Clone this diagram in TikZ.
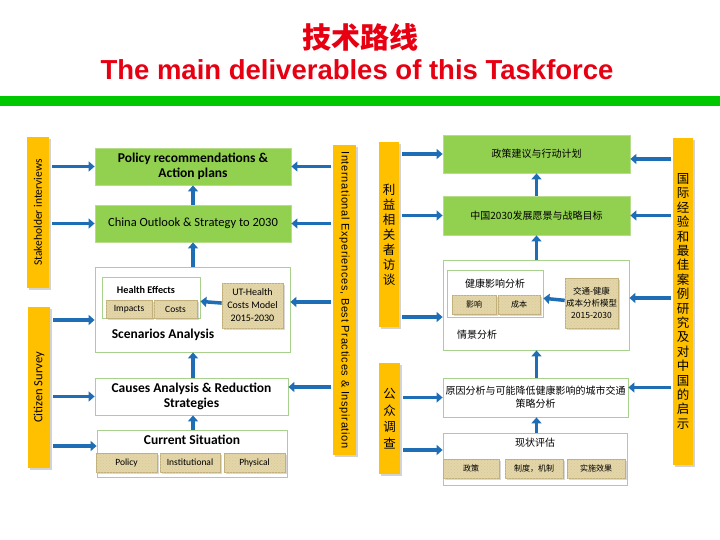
\documentclass[tikz,border=0pt]{standalone}
\usepackage{fontspec}
\setmainfont{Carlito}
\newfontfamily\cjk{Noto Sans CJK SC}
\newfontfamily\arialf{Liberation Sans}
\newfontfamily\arialwide[LetterSpace=6]{Liberation Sans}
\usetikzlibrary{arrows.meta,shadows,calc,patterns}
\definecolor{titlered}{HTML}{E60012}
\definecolor{topgreen}{HTML}{00C800}
\definecolor{barorange}{HTML}{FFC000}
\definecolor{boxgreen}{HTML}{92D050}
\definecolor{boxgreenline}{HTML}{B7DD8C}
\definecolor{frameline}{HTML}{A9D18E}
\definecolor{tanfill}{HTML}{E4D6A6}
\definecolor{tanline}{HTML}{C2B07A}
\definecolor{arrowblue}{HTML}{1F6DB4}
\begin{document}
\begin{tikzpicture}[x=1pt, y=-1pt, >={Triangle[length=6pt,width=10pt]},
  sidebar/.style={fill=barorange, inner sep=0pt,
    drop shadow={shadow xshift=2pt, shadow yshift=-2pt, opacity=0.35}},
  greenbox/.style={fill=boxgreen, draw=boxgreenline, line width=0.8pt, inner sep=0pt, align=center},
  framebox/.style={fill=white, draw=frameline, line width=0.8pt, inner sep=0pt},
  tanbox/.style={fill=tanfill, draw=tanline, line width=0.6pt, inner sep=0pt, align=center,
    drop shadow={shadow xshift=1.5pt, shadow yshift=-1.5pt, opacity=0.3},
    postaction={pattern=crosshatch dots, pattern color=tanline!70}},
  flow/.style={->, line width=3.5pt, draw=arrowblue},
  zhfont/.style={font=\cjk\fontsize{10}{13}\selectfont}]
\useasboundingbox (0,0) rectangle (720,540);

% title
\node[font=\cjk\bfseries\fontsize{29}{31}\selectfont, text=titlered] (ttl) at (360,37) {技术路线};
\node[font=\arialf\bfseries\fontsize{27.5}{29}\selectfont, text=titlered] (sub) at (357,70) {The main deliverables of this Taskforce};
\fill[topgreen] (0,96) rectangle (720,106);

% English flow
\node[sidebar, minimum width=22pt, minimum height=151pt] (sbar) at (38,212.5) {};
\node[rotate=90, font=\fontsize{11.5}{13}\selectfont] at (sbar) {Stakeholder interviews};
\node[sidebar, minimum width=22pt, minimum height=161pt] (cbar) at (39,387.5) {};
\node[rotate=90, font=\fontsize{12.5}{14}\selectfont] at (cbar) {Citizen Survey};
\node[sidebar, minimum width=23pt, minimum height=310pt] (ibar) at (344.5,300) {};
\node[rotate=-90, font=\arialwide\fontsize{11}{12}\selectfont] at (ibar) {International Experiences, Best Practices \& Inspiration};

\node[greenbox, minimum width=196pt, minimum height=37pt, font=\bfseries\fontsize{13.5}{15}\selectfont] (pol) at (193,166.5) {Policy recommendations \&\\Action plans};
\node[greenbox, minimum width=196pt, minimum height=37pt, font=\fontsize{12.5}{14}\selectfont] (chn) at (193,223.5) {China Outlook \& Strategy to 2030};

\node[framebox, minimum width=195pt, minimum height=85pt] (scen) at (192.5,309.5) {};
\node[framebox, minimum width=98pt, minimum height=41pt] (hlth) at (151,297.5) {};
\node[font=\bfseries\fontsize{10.2}{12}\selectfont] (hlthtxt) at (146,290) {Health Effects};
\node[tanbox, minimum width=46pt, minimum height=18pt, font=\fontsize{9.5}{10}\selectfont] (imp) at (129,309) {Impacts};
\node[tanbox, minimum width=43pt, minimum height=18pt, font=\fontsize{9.5}{10}\selectfont] (cst) at (175.5,309) {Costs};
\node[tanbox, minimum width=61pt, minimum height=45pt, font=\fontsize{10}{13}\selectfont] (ut) at (252.5,305.5) {UT-Health\\Costs Model\\2015-2030};
\node[font=\bfseries\fontsize{13.5}{15}\selectfont] (scentxt) at (163,335) {Scenarios Analysis};

\node[framebox, minimum width=193pt, minimum height=37pt, align=center, font=\bfseries\fontsize{13.5}{15}\selectfont] (caus) at (191.5,396.5) {Causes Analysis \& Reduction\\Strategies};
\node[framebox, minimum width=190pt, minimum height=47pt] (cur) at (192,453.5) {};
\node[font=\bfseries\fontsize{13.5}{15}\selectfont] (curtxt) at (192,440) {Current Situation};
\node[tanbox, minimum width=61pt, minimum height=19pt, font=\fontsize{9.5}{10}\selectfont] (cpol) at (126.5,462.5) {Policy};
\node[tanbox, minimum width=60pt, minimum height=19pt, font=\fontsize{9.5}{10}\selectfont] (cins) at (190,462.5) {Institutional};
\node[tanbox, minimum width=61pt, minimum height=19pt, font=\fontsize{9.5}{10}\selectfont] (cphy) at (254.5,462.5) {Physical};

\draw[flow] (chn) -- (pol);
\draw[flow] (scen.north -| chn) -- (chn);
\draw[flow] (caus.north -| chn) -- (scen.south -| chn);
\draw[flow] (cur.north -| chn) -- (caus.south -| chn);
\draw[flow] (ut) -- (hlth);
\draw[flow, shorten <=3pt] (sbar.east |- pol.west) -- (pol.west);
\draw[flow, shorten <=3pt] (sbar.east |- chn.west) -- (chn.west);
\draw[flow, shorten <=3pt] ($(cbar.east |- scen.west)+(0,10.5)$) -- ($(scen.west)+(0,10.5)$);
\draw[flow, shorten <=3pt] (cbar.east |- caus.west) -- (caus.west);
\draw[flow, shorten <=3pt] ($(cbar.east |- cur.west)+(0,-7.5)$) -- ($(cur.west)+(0,-7.5)$);
\draw[flow, shorten <=2pt] (ibar.west |- pol.east) -- (pol.east);
\draw[flow, shorten <=2pt] (ibar.west |- chn.east) -- (chn.east);
\draw[flow, shorten <=2pt] ($(ibar.west |- scen.east)+(0,-7.5)$) -- ($(scen.east)+(0,-7.5)$);
\draw[flow, shorten <=2pt] ($(ibar.west |- caus.east)+(0,-9.5)$) -- ($(caus.east)+(0,-9.5)$);

% Chinese flow
\node[sidebar, minimum width=20pt, minimum height=185pt] (lbar) at (389,234.5) {};
\node[align=center, font=\cjk\fontsize{12.5}{15}\selectfont] at (lbar) {利\\益\\相\\关\\者\\访\\谈};
\node[sidebar, minimum width=21pt, minimum height=111pt] (gbar) at (389.5,418.5) {};
\node[align=center, font=\cjk\fontsize{12.5}{16.5}\selectfont] at (gbar) {公\\众\\调\\查};
\node[sidebar, minimum width=20pt, minimum height=327pt] (rbar) at (683,301.5) {};
\node[align=center, font=\cjk\fontsize{12.5}{14.4}\selectfont] at (rbar) {国\\际\\经\\验\\和\\最\\佳\\案\\例\\研\\究\\及\\对\\中\\国\\的\\启\\示};

\node[greenbox, minimum width=187pt, minimum height=38pt, zhfont] (zc) at (536.5,154) {政策建议与行动计划};
\node[greenbox, minimum width=187pt, minimum height=39pt, zhfont] (zg) at (536.5,215.5) {中国2030发展愿景与战略目标};

\node[framebox, minimum width=186pt, minimum height=90pt] (qj) at (536,305) {};
\node[framebox, minimum width=96pt, minimum height=47pt] (jk) at (495,293.5) {};
\node[font=\cjk\fontsize{10}{12}\selectfont] (jktxt) at (495,284) {健康影响分析};
\node[tanbox, minimum width=44pt, minimum height=19pt, font=\cjk\fontsize{8}{10}\selectfont] (yx) at (474,304.5) {影响};
\node[tanbox, minimum width=42pt, minimum height=19pt, font=\cjk\fontsize{8}{10}\selectfont] (cb) at (519,304.5) {成本};
\node[tanbox, minimum width=53pt, minimum height=50pt, font=\cjk\fontsize{8.5}{12}\selectfont] (jt) at (591.5,303) {交通-健康\\成本分析模型\\2015-2030};
\node[font=\cjk\fontsize{10}{12}\selectfont] (qjtxt) at (477,335) {情景分析};

\node[framebox, minimum width=185pt, minimum height=39pt, align=center, font=\cjk\fontsize{10}{13}\selectfont] (yy) at (535.5,397.5) {原因分析与可能降低健康影响的城市交通\\策略分析};
\node[framebox, minimum width=184pt, minimum height=52pt] (xz) at (535,459) {};
\node[font=\cjk\fontsize{10}{12}\selectfont] (xztxt) at (535,443) {现状评估};
\node[tanbox, minimum width=56pt, minimum height=19pt, font=\cjk\fontsize{8}{10}\selectfont] (xpol) at (471,468.5) {政策};
\node[tanbox, minimum width=58pt, minimum height=19pt, font=\cjk\fontsize{8}{10}\selectfont] (xzd) at (534,468.5) {制度，机制};
\node[tanbox, minimum width=58pt, minimum height=19pt, font=\cjk\fontsize{8}{10}\selectfont] (xss) at (596,468.5) {实施效果};

\draw[flow] (zg) -- (zc);
\draw[flow] (qj.north -| zg) -- (zg);
\draw[flow] (yy.north -| zg) -- (qj.south -| zg);
\draw[flow] (xz.north -| zg) -- (yy.south -| zg);
\draw[flow] (jt) -- (jk);
\draw[flow, shorten <=3pt] (lbar.east |- zc.west) -- (zc.west);
\draw[flow, shorten <=3pt] (lbar.east |- zg.west) -- (zg.west);
\draw[flow, shorten <=3pt] ($(lbar.east |- qj.west)+(0,12)$) -- ($(qj.west)+(0,12)$);
\draw[flow, shorten <=3pt] (gbar.east |- yy.west) -- (yy.west);
\draw[flow, shorten <=3pt] ($(gbar.east |- xz.west)+(0,-9)$) -- ($(xz.west)+(0,-9)$);
\draw[flow, shorten <=2pt] ($(rbar.west |- zc.east)+(0,5)$) -- ($(zc.east)+(0,5)$);
\draw[flow, shorten <=2pt] (rbar.west |- zg.east) -- (zg.east);
\draw[flow, shorten <=2pt] ($(rbar.west |- qj.east)+(0,-7)$) -- ($(qj.east)+(0,-7)$);
\draw[flow, shorten <=2pt] ($(rbar.west |- yy.east)+(0,-10)$) -- ($(yy.east)+(0,-10)$);
\end{tikzpicture}
\end{document}
